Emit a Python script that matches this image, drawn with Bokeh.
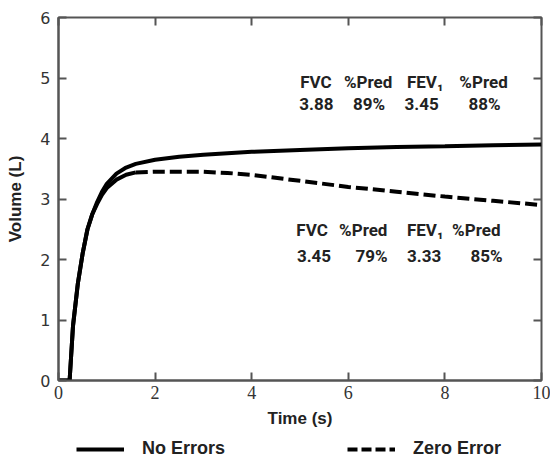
from bokeh.plotting import figure
from bokeh.models import Range1d, LinearAxis, Legend, LegendItem, FixedTicker, Label
from bokeh.layouts import column
from bokeh.embed import file_html
from bokeh.resources import INLINE

# Data
no_err_t = [0, 0.23, 0.3, 0.4, 0.5, 0.6, 0.7, 0.8, 0.9, 1.0, 1.2, 1.4, 1.6, 2.0, 2.5, 3, 4, 5, 6, 7, 8, 9, 10]
no_err_v = [0, 0, 0.9, 1.6, 2.1, 2.5, 2.75, 2.95, 3.12, 3.25, 3.42, 3.52, 3.58, 3.65, 3.7, 3.73, 3.78, 3.81, 3.84, 3.86, 3.87, 3.89, 3.9]
zero_t = [0, 0.23, 0.3, 0.4, 0.5, 0.6, 0.7, 0.8, 0.9, 1.0, 1.2, 1.4, 1.6, 2.0, 2.5, 3, 3.5, 4, 5, 6, 7, 8, 9, 10]
zero_v = [0, 0, 0.9, 1.6, 2.1, 2.5, 2.75, 2.92, 3.07, 3.18, 3.32, 3.4, 3.44, 3.45, 3.45, 3.45, 3.43, 3.4, 3.3, 3.2, 3.12, 3.04, 2.97, 2.9]
split = 12  # index where dashed part starts

x_ticks = [0, 2, 4, 6, 8, 10]
y_ticks = [0, 1, 2, 3, 4, 5, 6]

hdr = ["FVC", "%Pred", "FEV\u2081", "%Pred"]
no_err_vals = ["3.88", "89%", "3.45", "88%"]
zero_vals = ["3.45", "79%", "3.33", "85%"]
no_err_hdr_x = [5.33, 6.41, 7.59, 8.80]
no_err_val_x = [5.34, 6.43, 7.52, 8.82]
zero_hdr_x = [5.25, 6.31, 7.59, 8.65]
zero_val_x = [5.29, 6.48, 7.57, 8.86]
no_err_rows = [4.93, 4.57]
zero_rows = [2.49, 2.06]

FONT = "Roboto"
LBL = "Liberation Sans"
AX = "#555555"

p = figure(width=550, height=436, output_backend="svg", toolbar_location=None,
           x_range=Range1d(0, 10), y_range=Range1d(0, 6),
           min_border_left=58, min_border_right=9, min_border_top=17, min_border_bottom=56)
p.grid.visible = False
p.outline_line_color = AX
p.outline_line_width = 2

for ax in (p.xaxis[0], p.yaxis[0]):
    ax.major_tick_in = 8
    ax.major_tick_out = 0
    ax.minor_tick_in = 0
    ax.minor_tick_out = 0
    ax.axis_line_color = AX
    ax.axis_line_width = 2
    ax.major_tick_line_color = AX
    ax.major_tick_line_width = 2
    ax.axis_label_text_font = LBL
    ax.axis_label_text_font_style = "bold"
    ax.axis_label_text_font_size = "17px"
    ax.axis_label_text_color = "#222222"
    ax.major_label_text_color = "#333333"

p.xaxis[0].ticker = FixedTicker(ticks=x_ticks)
p.yaxis[0].ticker = FixedTicker(ticks=y_ticks)
p.xaxis[0].axis_label = "Time (s)"
p.yaxis[0].axis_label = "Volume (L)"
p.xaxis[0].major_label_text_font = "Liberation Serif"
p.xaxis[0].major_label_text_font_size = "18px"
p.xaxis[0].major_label_standoff = 5
p.xaxis[0].axis_label_standoff = 7
p.yaxis[0].major_label_text_font = "DejaVu Sans"
p.yaxis[0].major_label_text_font_size = "16px"
p.yaxis[0].major_label_standoff = 8
p.yaxis[0].axis_label_standoff = 12

def tick_only_axis(ticks):
    return LinearAxis(ticker=FixedTicker(ticks=ticks),
                      major_label_overrides={t: "" for t in ticks},
                      major_label_text_font_size="1px", major_label_text_color=None,
                      major_tick_in=8, major_tick_out=0, minor_tick_in=0, minor_tick_out=0,
                      axis_line_color=None, major_tick_line_color=AX, major_tick_line_width=2,
                      major_label_standoff=0)

p.add_layout(tick_only_axis(x_ticks), "above")
p.add_layout(tick_only_axis(y_ticks), "right")

p.line(no_err_t, no_err_v, line_color="black", line_width=4)
p.line(zero_t[:split + 1], zero_v[:split + 1], line_color="black", line_width=4)
p.line(zero_t[split:], zero_v[split:], line_color="black", line_width=4, line_dash="12 5")

blocks = ((no_err_hdr_x, no_err_val_x, no_err_rows, no_err_vals),
          (zero_hdr_x, zero_val_x, zero_rows, zero_vals))
for hx, vx, rows, vals in blocks:
    for i in range(len(hdr)):
        for cx, yy, s in ((hx[i], rows[0], hdr[i]), (vx[i], rows[1], vals[i])):
            p.add_layout(Label(x=cx, y=yy, text=s, text_align="center", text_baseline="middle",
                               text_font=FONT, text_font_style="bold", text_font_size="17px",
                               text_color="#222222"))

# Legend strip below the chart
lg = figure(width=550, height=25, output_backend="svg", toolbar_location=None,
            x_range=Range1d(0, 1), y_range=Range1d(0, 1),
            x_axis_location=None, y_axis_location=None,
            min_border_left=0, min_border_right=0, min_border_top=0, min_border_bottom=0)
lg.grid.visible = False
lg.outline_line_color = None
l1 = lg.line([-5, -4], [-5, -4], line_color="black", line_width=4)
l2 = lg.line([-5, -4], [-5, -4], line_color="black", line_width=4, line_dash="10 4")
legend = Legend(items=[LegendItem(label="No Errors", renderers=[l1]),
                       LegendItem(label="Zero Error", renderers=[l2])],
                orientation="horizontal", location=(18, 2),
                glyph_width=48, glyph_height=18, label_standoff=18, label_width=205, spacing=0,
                padding=0, margin=0, border_line_color=None, background_fill_alpha=0,
                label_text_font=LBL, label_text_font_style="bold", label_text_font_size="18px",
                label_text_color="#222222")
lg.add_layout(legend, "center")

open("out.html", "w").write(file_html(column(p, lg, spacing=0), INLINE))
